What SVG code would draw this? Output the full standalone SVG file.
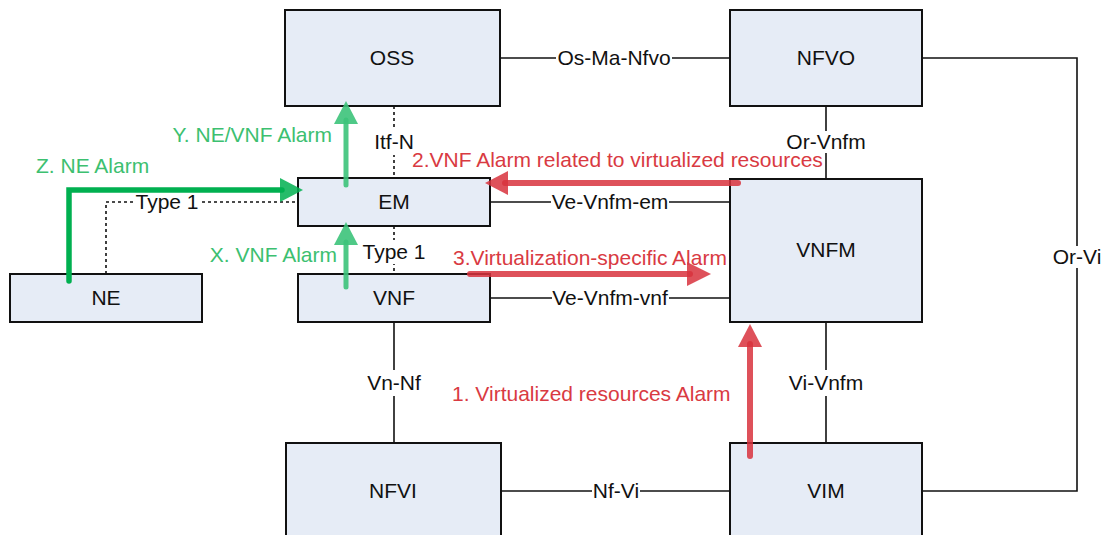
<svg xmlns="http://www.w3.org/2000/svg" width="1106" height="535" viewBox="0 0 1106 535">
<style>
.box{fill:#E6ECF6;stroke:#111;stroke-width:2}
.lbl{font-family:"Liberation Sans",Arial,sans-serif;font-size:21px;fill:#111;text-anchor:middle}
.bg{fill:#fff;stroke:none}
.ln{fill:none;stroke:#111;stroke-width:1.6}
.dot{fill:none;stroke:#111;stroke-width:1.6;stroke-dasharray:3 3}
.red{font-family:"Liberation Sans",Arial,sans-serif;font-size:21px;fill:#D93A42}
.grn{font-family:"Liberation Sans",Arial,sans-serif;font-size:21px;fill:#3CC070}
.rs{fill:none;stroke:#D8323D;stroke-width:6;stroke-linecap:round;opacity:0.85}
.rh{fill:#D8323D;opacity:0.85}
.gs{fill:none;stroke:#3CC37A;stroke-width:5;stroke-linecap:round;opacity:0.9}
.gh{fill:#3CC37A;opacity:0.9}
</style>
<rect width="1106" height="535" fill="#fff"/>
<g id="connectors">
<line class="ln" x1="500" y1="58" x2="730" y2="58"/>
<polyline class="ln" points="922,58 1077,58 1077,491 922,491"/>
<line class="ln" x1="826" y1="106" x2="826" y2="179"/>
<line class="dot" x1="394" y1="106" x2="394" y2="178"/>
<line class="dot" x1="394" y1="226" x2="394" y2="274"/>
<polyline class="dot" points="106,274 106,202 298,202"/>
<line class="ln" x1="490" y1="202" x2="730" y2="202"/>
<line class="ln" x1="490" y1="298" x2="730" y2="298"/>
<line class="ln" x1="394" y1="322" x2="394" y2="443"/>
<line class="ln" x1="826" y1="322" x2="826" y2="443"/>
<line class="ln" x1="501" y1="491" x2="730" y2="491"/>
<rect class="bg" x="556" y="48" width="116" height="20"/>
<rect class="bg" x="1051" y="246" width="52" height="22"/>
<rect class="bg" x="786" y="131" width="80" height="22"/>
<rect class="bg" x="374" y="129" width="40" height="26"/>
<rect class="bg" x="362" y="240" width="64" height="24"/>
<rect class="bg" x="135" y="192" width="64" height="20"/>
<rect class="bg" x="551" y="192" width="118" height="20"/>
<rect class="bg" x="552" y="288" width="117" height="20"/>
<rect class="bg" x="367" y="370" width="54" height="26"/>
<rect class="bg" x="788" y="370" width="76" height="26"/>
<rect class="bg" x="592" y="481" width="48" height="20"/>
<text class="lbl" x="614" y="65">Os-Ma-Nfvo</text>
<text class="lbl" x="1077" y="264">Or-Vi</text>
<text class="lbl" x="826" y="149">Or-Vnfm</text>
<text class="lbl" x="394" y="149">Itf-N</text>
<text class="lbl" x="394" y="259">Type 1</text>
<text class="lbl" x="167" y="209">Type 1</text>
<text class="lbl" x="610" y="209">Ve-Vnfm-em</text>
<text class="lbl" x="610" y="305">Ve-Vnfm-vnf</text>
<text class="lbl" x="394" y="390">Vn-Nf</text>
<text class="lbl" x="826" y="390">Vi-Vnfm</text>
<text class="lbl" x="616" y="498">Nf-Vi</text>
</g>
<g id="OSS"><rect class="box" x="285" y="10" width="215" height="96"/><text class="lbl" x="392" y="65">OSS</text></g>
<g id="NFVO"><rect class="box" x="730" y="10" width="192" height="96"/><text class="lbl" x="826" y="65">NFVO</text></g>
<g id="EM"><rect class="box" x="298" y="178" width="192" height="48"/><text class="lbl" x="394" y="209">EM</text></g>
<g id="VNF"><rect class="box" x="298" y="274" width="192" height="48"/><text class="lbl" x="394" y="305">VNF</text></g>
<g id="NE"><rect class="box" x="10" y="274" width="192" height="48"/><text class="lbl" x="106" y="305">NE</text></g>
<g id="VNFM"><rect class="box" x="730" y="179" width="192" height="143"/><text class="lbl" x="826" y="257">VNFM</text></g>
<g id="NFVI"><rect class="box" x="286" y="443" width="215" height="100"/><text class="lbl" x="393" y="498">NFVI</text></g>
<g id="VIM"><rect class="box" x="730" y="443" width="192" height="100"/><text class="lbl" x="826" y="498">VIM</text></g>
<g id="alarms">
<polyline points="69,281 69,190 282,190" fill="none" stroke="#00B050" stroke-width="5.5" stroke-linecap="round" stroke-linejoin="miter"/>
<polygon points="280,178 303,190 280,202" fill="#00B050" opacity="0.85"/>
<line class="gs" x1="346" y1="185" x2="346" y2="120"/>
<polygon class="gh" points="334,124 346,101 358,124"/>
<line class="gs" x1="346" y1="287" x2="346" y2="242"/>
<polygon class="gh" points="334,245 346,222 358,245"/>
<line class="rs" x1="738" y1="183" x2="505" y2="183"/>
<polygon class="rh" points="508,171 485,183 508,195"/>
<line class="rs" x1="470" y1="274" x2="690" y2="274"/>
<polygon class="rh" points="687,262 711,274 687,286"/>
<line class="rs" x1="750" y1="456" x2="750" y2="344"/>
<polygon class="rh" points="738,347 750,324 762,347"/>
<text class="grn" x="332" y="142" text-anchor="end">Y. NE/VNF Alarm</text>
<text class="grn" x="36" y="173">Z. NE Alarm</text>
<text class="grn" x="337" y="262" text-anchor="end">X. VNF Alarm</text>
<text class="red" x="412" y="167">2.VNF Alarm related to virtualized resources</text>
<text class="red" x="453" y="265">3.Virtualization-specific Alarm</text>
<text class="red" x="452" y="401">1. Virtualized resources Alarm</text>
</g>
</svg>
